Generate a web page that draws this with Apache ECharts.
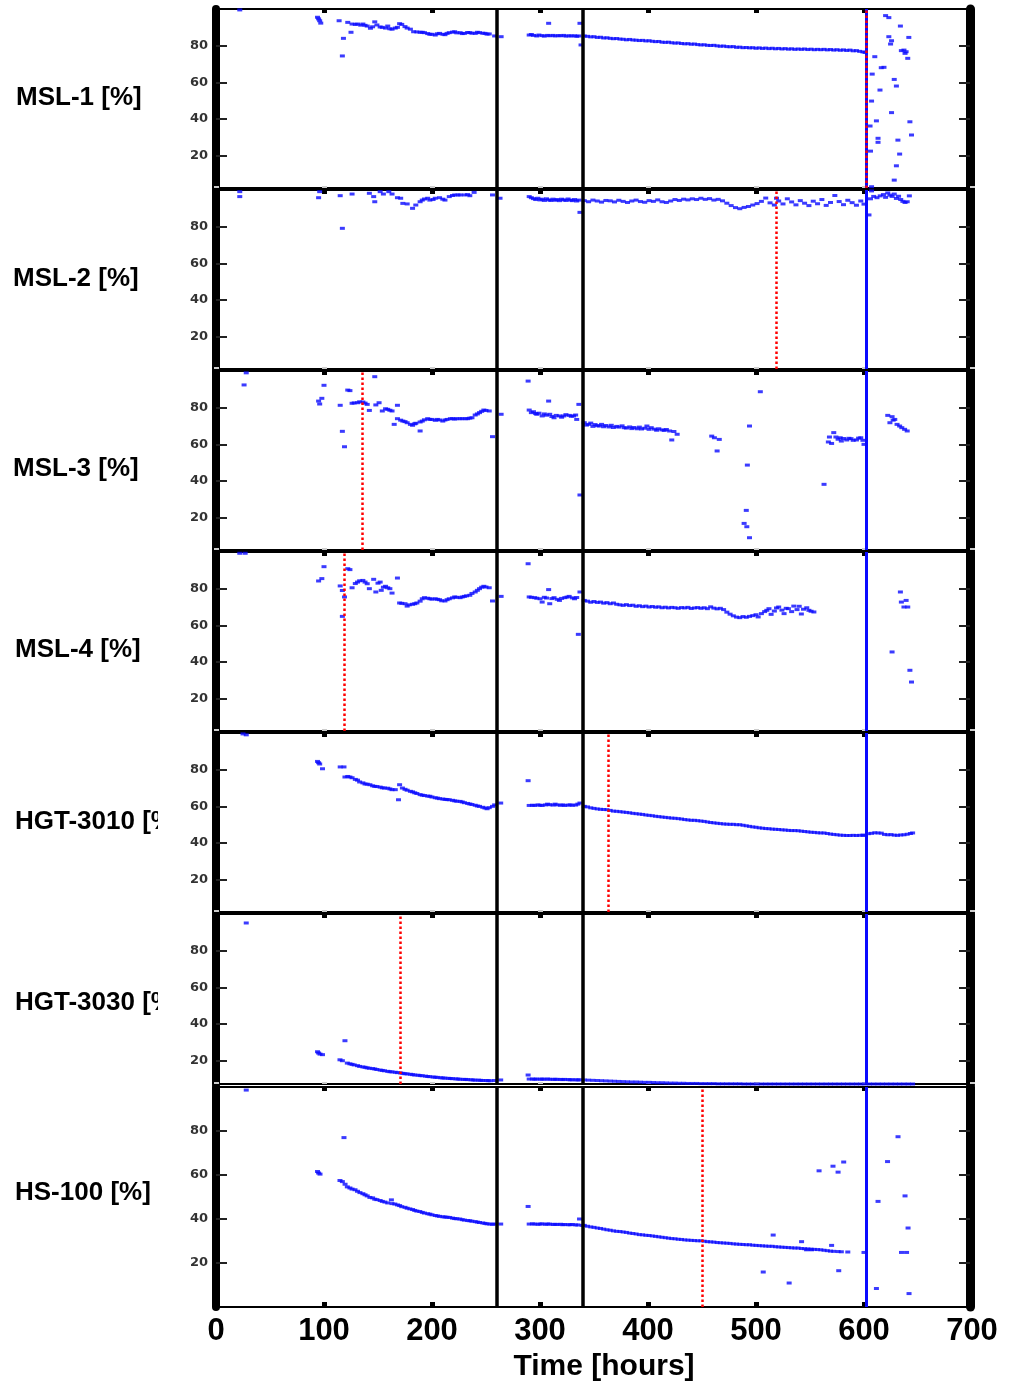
<!DOCTYPE html>
<html>
<head>
<meta charset="utf-8">
<script src="https://cdn.jsdelivr.net/npm/echarts@6/dist/echarts.min.js"></script>
<style>html,body{margin:0;padding:0;background:#fff}#main{width:1015px;height:1385px}</style>
</head>
<body>
<div id="main"></div>
<script>
// panel titles (left side)
var names = ['MSL-1 [%]', 'MSL-2 [%]', 'MSL-3 [%]', 'MSL-4 [%]', 'HGT-3010 [%]', 'HGT-3030 [%]', 'HS-100 [%]'];

// [hours, %]
var msl1 = [[22,99.5],[94,95.5],[95,94.6],[96,93.6],[97,92.3],[114,93.6],[117,74.4],[118,84],[122,92.7],[125,87.3],[126,91.8],[129,91.6],[131,91.8],[134,91.2],[136,91.8],[138,91.1],[140,90.7],[143,89.5],[145,90.3],[147,93],[149,91.3],[152,90.2],[154,90],[157,89.6],[159,90.7],[161,89.2],[163,89],[166,89.6],[168,90],[170,92],[172,91.6],[175,90.4],[177,89.6],[180,89],[183,87.6],[186,87.5],[189,87.3],[191,87.3],[193,87.1],[196,86.6],[198,86.2],[200,86.2],[203,85.8],[205,86.5],[207,86.7],[210,86.2],[212,86],[214,86.7],[216,87.1],[219,87.4],[221,87.6],[223,87],[226,87.1],[228,86.6],[230,86.7],[233,87.2],[235,87.1],[237,86.8],[240,86.7],[242,87.3],[244,87.1],[247,86.8],[249,86.7],[251,86.3],[253,86.4],[258,85.3],[264,84.9],
  [290,85.8],[292,86.1],[294,85.6],[297,85.3],[299,85.8],[302,85.5],[304,85.2],[307,85.6],[308,92.2],[309,85.4],[312,85.6],[314,85.3],[317,85.5],[319,85.4],[322,85.6],[324,85.2],[327,85.4],[329,85.3],[332,85.4],[334,85.1],[336,85.3],[337,92.2],[338,80.4],
  [341,85.3],[344,85.1],[347,84.8],[350,84.9],[353,84.5],[356,84.6],[359,84.2],[362,84.3],[365,84.0],[368,83.8],[371,83.9],[374,83.6],[377,83.5],[380,83.2],[383,83.4],[386,83.1],[389,83.0],[392,82.8],[395,82.9],[398,82.6],[401,82.7],[404,82.4],[407,82.2],[410,82.3],[413,81.9],[416,81.8],[419,81.9],[422,81.6],[425,81.4],[428,81.5],[431,81.2],[434,81.0],[437,81.1],[440,80.8],[443,80.9],[446,80.6],[449,80.4],[452,80.5],[455,80.2],[458,80.1],[461,80.2],[464,79.9],[467,79.7],[470,79.8],[473,79.5],[476,79.4],[479,79.5],[482,79.1],[485,79.2],[488,78.9],[491,79.0],[494,78.8],[497,78.9],[500,78.6],[503,78.8],[506,78.5],[509,78.7],[512,78.4],[515,78.6],[518,78.3],[521,78.5],[524,78.2],[527,78.4],[530,78.1],[533,78.3],[536,78.0],[539,78.2],[542,78.0],[545,78.2],[548,77.9],[551,78.1],[554,77.8],[557,78.0],[560,77.8],[563,78.0],[566,77.7],[569,77.9],[572,77.6],[575,77.8],[578,77.5],[581,77.7],[584,77.4],[587,77.6],[590,77.2],[593,77.3],[596,76.9],[599,76.6],[601,76.3],
  [605.6,36.2],[606,22.5],[607,49.8],[607.6,64.5],[607,3.1],[610,74],[611.5,39],[613,29.5],[613,27.3],[614.8,55.8],[616,68],[618.5,68.2],[620,96.4],[623,95.3],[623,84.9],[624.6,80.9],[625.5,82.7],[625.5,43.5],[628,61.6],[628,6.7],[630,58],[630,14.5],[631.4,28.5],[633,20.9],[633.7,90.7],[634.6,77.3],[637,77.6],[638,75.8],[639,76.7],[640.5,73.1],[641.5,84.5],[642.5,38.5],[644,31.3]];

var msl2 = [[22,99.1],[22,96.4],[95,95.8],[96,99.1],[115,96.9],[117,79.1],[126,97.8],[142,98.2],[146,96.4],[147,93.6],[152,99.1],[155,97.8],[160,99.1],[163,97.8],[168,95.8],[171,95.5],[173,92.7],[177,92.4],[182,90],[185,91.8],[189,93.6],[191,94.5],[193,95.1],[196,95.5],[198,94.5],[201,94.8],[203,95.5],[207,95.8],[210,95],[212,94.5],[216,96.4],[219,97],[221,97.3],[224,97.3],[226,97.3],[230,97.3],[233,97.5],[235,96.9],[239,98.7],[256,97.3],[263,95.5],
  [290,96.4],[292,95.8],[294,95.3],[296,94.8],[298,95.5],[300,94.6],[302,95],[304,94.3],[306,95.2],[308,94.6],[310,94.3],[312,95],[314,94.4],[316,94.8],[318,94.2],[320,95],[322,94.6],[324,94.3],[326,95.1],[328,94.5],[330,94.2],[332,94.8],[334,94],[336,94.5],[337,87.8],
  [341,94.2],[345,93.6],[349,94.5],[353,94],[357,93.4],[361,94.3],[365,94.1],[369,93.5],[373,94.4],[377,93.8],[381,93.2],[385,94],[389,94.5],[393,93.7],[397,93.3],[401,94.2],[405,93.8],[409,94.6],[413,93.6],[417,93.2],[421,94],[425,94.8],[429,94.3],[433,95],[437,94.6],[441,95.2],[445,94.8],[449,95.5],[453,94.9],[457,95.3],[461,94.5],[465,94.9],[469,94.1],[473,92.8],[477,91.5],[481,90.4],[485,89.8],[489,90.5],[493,91],[497,91.8],[501,92.6],[505,93.8],[509,95.6],[513,93],[517,91.8],[519,95.5],[521,94],[525,92.4],[529,95.2],[533,93.5],[537,91.9],[541,94.2],[545,92.8],[549,91.5],[553,93.9],[557,92.5],[561,94.8],[565,91.6],[569,93.2],[573,97],[577,93.7],[581,92],[585,94.4],[589,93.1],[593,91.7],[597,94],[600,92.3],
  [604.6,86.4],[607,99.5],[606,95.2],[609,96.5],[612,95.8],[615,96.8],[618,97.5],[620,96],[622,98.4],[624,97.2],[626,96.5],[628,97.8],[630,95.4],[632,96.6],[634,94.8],[636,93.8],[638,93.2],[640,93.6],[642,96.8]];

var msl3 = [[28,99],[26,92.4],[95,83.6],[96,82],[98,85.1],[100,92.2],[115,81.3],[117,67.1],[119,58.7],[122,89.6],[124,89.3],[126,82.4],[128,82.6],[131,82.7],[133,83.2],[136,83.1],[138,82.5],[140,81.8],[142,78.5],[147,96.9],[148,81.5],[151,82.7],[154,78.2],[157,79.4],[159,79.1],[161,78.6],[163,78.2],[165,70.9],[168,81.3],[168,74],[171,73.2],[173,72.7],[175,72.4],[177,71.8],[180,70.9],[182,70.4],[184,71.2],[185,71.5],[189,67.3],[189,72.2],[191,72.7],[193,73.4],[196,74],[198,73.6],[200,73.6],[203,73.1],[205,73.6],[207,73.3],[210,72.7],[212,73.3],[214,73.6],[217,74],[219,74],[221,73.8],[223,74],[226,74],[228,74],[231,74],[233,74],[235,74.3],[237,74.5],[240,76],[242,76.6],[244,77.3],[246,78],[248,78.7],[250,78.5],[253,78.2],[256,64.2],[264,76.4],
  [289,94.5],[290,78.7],[292,77.3],[294,77.8],[296,76.8],[297,76.4],[299,77],[302,75.5],[304,76.6],[306,75.9],[308,83.6],[309,76.4],[311,75.2],[313,74.5],[315,75.8],[318,75.5],[320,74.8],[322,75.5],[324,76.2],[327,75.8],[329,75.3],[331,75.5],[333,76],[334,73.6],[336,81.8],[337,32.4],
  [341,71.8],[343,70.5],[345,70.9],[347,71.6],[349,69.8],[351,70.8],[353,70.2],[355,70],[357,70.9],[359,69.6],[361,70.3],[364,69.5],[366,70.4],[368,69.2],[371,69.8],[373,69.4],[376,70.1],[378,69.1],[380,68.9],[383,69.5],[385,68.6],[387,69.2],[390,68.5],[392,69.4],[394,68.4],[397,68.8],[399,70],[401,68.2],[403,69.1],[406,68.3],[408,67.7],[410,68.5],[413,67.9],[415,67.6],[417,68.1],[420,67.3],[422,62.4],[424,67],[427,65.5],
  [459,64.5],[461.5,63.6],[464,56.4],[466,62.7],[489,16.9],[491,24],[491.5,15.1],[492,48.7],[494,70],[494,9.1],[504,88.7],[563,38.2],
  [567,61.3],[568,64],[570,60.5],[572,66.4],[574,64],[576,62.8],[578,63.6],[579,61.8],[581,63.2],[584,62.4],[586,63.3],[588,63.1],[590,62.2],[593,62.4],[595,63.4],[597,63.6],[599,62.2],[600,60],
  [622,75.8],[624,71.8],[626,75.1],[627,73.2],[628.5,73.6],[630.6,70.9],[633,70],[635,69.1],[637.6,68.2],[640,67.3]];

var msl4 = [[22,99.3],[27,99.3],[95,84.2],[98,85.5],[100,92],[115,81.5],[117,79],[117,64.9],[119,75.5],[122,90.9],[124,90.4],[126,80.5],[129,82.8],[131,83.6],[133,84.3],[136,84.5],[138,83.6],[140,82.7],[142,80],[146,85.1],[148,78.2],[150,83],[152,83.6],[153,79.1],[155,80.8],[157,81.3],[159,80.5],[161,80],[163,77.6],[168,85.8],[170,72.2],[172,72],[175,71.8],[177,70.5],[179,71.2],[182,71.5],[184,71.8],[186,72.2],[189,73.2],[191,74.5],[193,75.1],[196,74.8],[198,74.5],[200,74.3],[203,74.5],[205,74.2],[207,74],[209,73.4],[212,73.3],[214,74],[216,74.5],[219,75],[221,75.5],[223,75.3],[226,75.1],[228,75.5],[230,75.8],[232,76.1],[235,76.4],[237,77.4],[240,78.2],[242,79.1],[244,80],[246,80.8],[248,81.3],[250,80.9],[253,80.5],[256,73.3],[264,75.8],
  [289,93.6],[290,75.5],[292,75.3],[295,75.1],[297,74.8],[300,74.5],[302,72.7],[304,75.3],[306,74.9],[308,79.5],[309,71.8],[311,74.6],[313,75.1],[316,74.2],[318,73.6],[320,74.7],[323,75.1],[325,75.4],[327,75.8],[330,75],[332,74.5],[334,75.2],[335.5,55.1],[337,78.2],
  [341,73.6],[344,73.2],[347,72.6],[350,73],[353,72.5],[356,72.7],[359,72.1],[362,72.4],[365,71.8],[368,72.2],[371,71.5],[374,71.2],[377,70.9],[380,71.3],[383,70.8],[386,71],[389,70.4],[392,70.7],[395,70.2],[398,70.5],[401,70],[404,70.3],[407,69.9],[410,70.1],[413,69.6],[416,69.9],[419,69.5],[422,69.8],[425,69.6],[428,69.3],[431,69.7],[434,69.5],[437,69.8],[440,69.2],[443,69.5],[446,69.7],[449,69.3],[452,69.6],[455,69.1],[458,70.1],[461,69.4],[464,69],[467,69.3],[470,68.6],[473,67.2],[476,66.1],[479,65.2],[482,64.5],[485,64.2],[488,64.8],[491,64.4],[494,64.9],[497,65.3],[500,65.8],[502,64.6],[505,66.4],[508,67.5],[510,68.2],[512,69.1],[514,66],[517,67.8],[519,69.5],[521,70],[524,68.3],[526,66.4],[528,69.3],[530,69.1],[533,67.5],[535,70.5],[538,68.6],[540,70.4],[542,66.2],[544,68.8],[547,69.6],[549,68.2],[551,67.7],[553.6,67.3],
  [626,45.5],[633.7,78.2],[634.6,72.7],[637,70],[639,73.6],[640.5,70],[642.5,35.5],[644,29.1]];

var hgt3010 = [[25,99.5],[28,99],[94,84.5],[95,83.8],[96,83.1],[98.6,80.5],[115,81.5],[118.5,81.5],[119.4,76],[122,76.3],[124,76],[126,75.6],[129,74.7],[131,74.3],[133,73.3],[136,72.8],[138,72.2],[140,72.1],[142.5,71.8],[145,71.2],[147,70.9],[149,70.8],[152,70.5],[154,70.1],[156,70],[159,69.9],[161,69.5],[163,69.1],[166,69.1],[169,63.6],[170,71.8],[172.6,70],[175,69.3],[177,68.8],[180,68.2],[182,67.9],[184,67.4],[186,67],[189,66.4],[191,66.1],[193,65.9],[196,65.6],[198,65.5],[200,65.1],[203,64.7],[205,64.5],[207,64.2],[210,64],[212,63.8],[214,63.7],[216,63.6],[219,63.3],[221,63],[223,62.8],[226,62.7],[228,62.4],[230,62],[233,61.6],[235,61.3],[237,61],[240,60.6],[242,60.2],[244,60],[247,59.5],[249,59.1],[251,58.7],[253,59.3],[256,60],[258,60.8],[263.6,61.8],
  [289,74],[290,60.5],[293,60.6],[295,60.5],[298,60.8],[300,60.6],[302,60.5],[305,60.8],[307,61.2],[309,60.9],[312,60.7],[314,61.2],[316,60.8],[319,60.6],[321,60.8],[323,60.5],[326,60.7],[328,60.8],[330,60.6],[333,60.7],[335,61.2],[337,61.8],
  [341,60],[344,59.7],[347,59.2],[350,58.9],[353,58.6],[356,58.4],[359,58.3],[362,58.2],[365,57.8],[368,57.4],[371,57.3],[374,57.1],[377,56.9],[380,56.7],[383,56.5],[386,56.2],[389,56],[392,55.8],[395,55.6],[398,55.3],[401,55.1],[404,54.9],[407,54.6],[410,54.4],[413,54.2],[416,54],[419,53.8],[422,53.6],[425,53.5],[428,53.3],[431,53.1],[434,52.8],[437,52.6],[440,52.4],[443,52.4],[446,52.2],[449,52],[452,51.8],[455,51.5],[458,51.2],[461,51],[464,50.8],[467,50.6],[470,50.4],[473,50.3],[476,50.2],[479,50.2],[482,50],[485,50],[488,49.7],[491,49.4],[494,49.1],[497,48.8],[500,48.6],[503,48.3],[506,48.1],[509,47.9],[512,47.8],[515,47.6],[518,47.5],[521,47.4],[524,47.2],[527,47.1],[530,46.9],[533,46.8],[536,46.8],[539,46.7],[542,46.5],[545,46.3],[548,46.1],[551,45.9],[554,45.8],[557,45.6],[560,45.5],[563,45.5],[566,45.2],[569,44.9],[572,44.7],[575,44.5],[578,44.3],[581,44.2],[584,44.1],[587,44.1],[590,44.2],[593,44.1],[596,44.2],[599,44.3],[600,44.2],
  [604,45.1],[607,45.3],[610,45.6],[613,45.5],[616,45.4],[619,44.7],[622,44.5],[625,44.6],[628,44.3],[631,44.2],[634,44.4],[637,44.5],[640,44.8],[643,45.2],[645,45.5]];

var hgt3030 = [[28,95.1],[94,24.9],[95,24.2],[96.3,23.6],[98.6,23.3],[114.8,20.5],[117,20],[119.4,30.9],[121.6,18.7],[124,18.3],[126,18],[128,17.7],[131,17.3],[133,16.9],[136,16.6],[138,16.4],[140,16.1],[142,15.9],[145,15.7],[147,15.5],[149,15.2],[152,14.9],[154,14.7],[156,14.5],[159,14.2],[161,14],[163,13.9],[166,13.7],[168,13.5],[171,13.3],[173,13.1],[175,12.9],[177,12.8],[180,12.6],[182,12.4],[184,12.2],[187,12.1],[189,11.9],[191,11.8],[194,11.6],[196,11.4],[198,11.3],[201,11.1],[203,11],[205,10.9],[208,10.7],[210,10.6],[212,10.5],[215,10.4],[217,10.3],[219,10.2],[222,10.1],[224,10],[226,9.9],[229,9.8],[231,9.8],[233,9.7],[236,9.6],[238,9.5],[240,9.4],[243,9.4],[245,9.3],[247,9.2],[250,9.2],[252,9.1],[254,9.1],[258,9.2],[263.6,9.5],
  [289,12.2],[290,10],[293,10],[295,9.9],[297,10],[300,9.9],[302,10],[304,9.9],[307,10],[309,9.9],[312,9.8],[314,9.9],[316,9.8],[319,9.8],[321,9.7],[323,9.8],[326,9.7],[328,9.6],[330,9.6],[333,9.6],[335,9.5],[337,9.6],
  [341,9.5],[345,9.4],[349,9.3],[353,9.2],[357,9.1],[361,9],[365,8.9],[369,8.8],[373,8.7],[377,8.6],[381,8.5],[385,8.4],[389,8.4],[393,8.3],[397,8.2],[401,8.2],[405,8.1],[409,8],[413,8],[417,7.9],[421,7.8],[425,7.8],[429,7.7],[433,7.7],[437,7.6],[441,7.6],[445,7.6],[449,7.5],[453,7.5],[457,7.5],[461,7.5],[465,7.4],[469,7.4],[473,7.4],[477,7.4],[481,7.4],[485,7.4],[489,7.3],[493,7.3],[497,7.3],[501,7.3],[505,7.3],[509,7.3],[513,7.3],[517,7.3],[521,7.3],[525,7.3],[529,7.3],[533,7.3],[537,7.3],[541,7.3],[545,7.3],[549,7.3],[553,7.3],[557,7.3],[561,7.3],[565,7.3],[569,7.3],[573,7.3],[577,7.3],[581,7.3],[585,7.3],[589,7.3],[593,7.3],[597,7.3],[601,7.3],[605,7.3],[609,7.3],[613,7.3],[617,7.3],[621,7.3],[625,7.3],[629,7.3],[633,7.3],[637,7.3],[641,7.3],[645,7.3]];

var hs100 = [[28,98.6],[94,61.6],[95,60.9],[96.3,60.4],[114.8,57.5],[117,57],[118.5,77],[119.5,55.8],[121.6,54.6],[124,54.1],[126,53.6],[128.7,53.3],[131,52.6],[133.3,52],[136,51.5],[138,51],[140,50.5],[142.5,49.8],[145,49.6],[147,49],[149,48.8],[152,48.4],[154,48],[156.4,47.7],[159,47.3],[162.4,48.7],[163,47],[165.6,46.8],[168,46.4],[170,46.1],[172,45.6],[175,45.3],[177,44.9],[179.5,44.6],[182,44.3],[184,43.9],[186,43.6],[188.7,43.4],[191,43],[193,42.7],[196,42.4],[198,42.2],[200,41.9],[203,41.6],[205,41.4],[207,41.2],[210,41],[212,40.9],[214,40.8],[216.4,40.7],[219,40.4],[221,40.2],[223,40.1],[225.7,40],[228,39.7],[230,39.5],[233,39.3],[235,39.2],[237,39],[240,38.8],[242,38.6],[244,38.4],[247,38.2],[249,38],[251,37.8],[253.5,37.7],[256,37.6],[258,37.7],[263.6,37.7],
  [289,45.7],[290,37.7],[293,37.8],[295,37.7],[298,37.6],[300,37.7],[302,37.8],[305,37.6],[307,37.7],[309,37.7],[312,37.5],[314,37.6],[316,37.5],[319,37.6],[321,37.4],[323,37.5],[326,37.4],[328,37.4],[330,37.5],[333,37.3],[335,37.3],[336.6,40],[339,37.1],
  [341,37.1],[344,36.7],[347,36.4],[350,36.2],[353,35.9],[356,35.7],[359,35.4],[362,35.1],[365,34.9],[368,34.6],[371,34.4],[374,34.3],[377,34.1],[380,33.9],[383,33.6],[386,33.4],[389,33.2],[392,32.9],[395,32.8],[398,32.6],[401,32.5],[404,32.3],[407,32.1],[410,31.9],[413,31.7],[416,31.5],[419,31.3],[422,31.1],[425,31],[428,30.8],[431,30.7],[434,30.5],[437,30.4],[440,30.3],[443,30.2],[446,30.1],[449,30.1],[452,29.9],[455,29.7],[458,29.6],[461,29.5],[464,29.3],[467,29.2],[470,29.1],[473,29],[476,28.9],[479,28.7],[482,28.6],[485,28.5],[488,28.4],[491,28.3],[494,28.3],[497,28.1],[500,28],[503,27.9],[506,27.8],[509,27.7],[512,27.6],[515,27.6],[518,27.4],[521,27.3],[524,27.2],[527,27.1],[530,27],[533,26.9],[536,26.8],[539,26.8],[542,26.6],[545,26.5],[548,26.4],[551,26.3],[554,26.2],[557,26.1],[560,26],[563,25.8],[566,25.6],[569,25.4],[572,25.3],[576,25.2],[579,25.1],[585,25],
  [506.7,15.9],[515.9,32.7],[530.7,10.9],[542.2,29.7],[546.8,26],[551.4,26],[558.4,61.9],[570,28],[571.3,64],[576,61.3],[576.6,16.5],[581.2,65.9],[600,24.8],
  [611.5,8.4],[613,48],[621.8,66.1],[631.5,77.4],[634.7,24.8],[638,50.5],[639.4,24.8],[640.8,35.9],[641.7,6.1]];

var panels = [msl1, msl2, msl3, msl4, hgt3010, hgt3030, hs100];

// vertical markers (hours)
var blackLines = [260, 340];
var blueLine = 602;
var redLines = [602, 519, 135.5, 119, 363, 171, 450];

var yTicks = [20, 40, 60, 80];
var yMins = [2.4, 2.4, 2.4, 2.4, 2.4, 7.3, 0];

// layout
var tops = [9, 190, 371, 552, 733, 914, 1087];
var heights = [179, 179, 179, 179, 179, 170, 220];
var labelX = [16, 13, 13, 15, 15, 15, 15];
var labelY = [98, 279, 469, 650, 822, 1003, 1193];

var myChart = echarts.init(document.getElementById('main'));

var grids = [], xAxes = [], yAxes = [], series = [], graphics = [];

panels.forEach(function (data, i) {
    var last = i === panels.length - 1;
    grids.push({left: 216, right: 43, top: tops[i], height: heights[i], outerBoundsMode: 'none', containLabel: false});

    // bottom
    xAxes.push({
        gridIndex: i, type: 'value', min: 0, max: 700, interval: 100, position: 'bottom',
        axisLine: {onZero: false, lineStyle: {color: '#000', width: 2}},
        axisTick: {inside: true, length: last ? 5 : 2, lineStyle: {color: last ? '#000' : '#ccc', width: 5}},
        axisLabel: {show: last, margin: 9, color: '#000', fontSize: 31, fontWeight: 'bold', fontFamily: 'Liberation Sans, Arial'},
        splitLine: {show: false},
        name: last ? 'Time [hours]' : '',
        nameLocation: 'middle', nameGap: 45,
        nameTextStyle: {color: '#000', fontSize: 30, fontWeight: 'bold', fontFamily: 'Liberation Sans, Arial', padding: [0, 0, 0, 20]}
    });
    // top
    xAxes.push({
        gridIndex: i, type: 'value', min: 0, max: 700, interval: 100, position: 'top',
        axisLine: {onZero: false, lineStyle: {color: '#000', width: 2}},
        axisTick: {inside: true, length: 4, lineStyle: {color: '#000', width: 5}},
        axisLabel: {show: false},
        splitLine: {show: false}
    });
    // left
    yAxes.push({
        gridIndex: i, type: 'value', min: yMins[i], max: 100, position: 'left',
        axisLine: {onZero: false, lineStyle: {color: '#000', width: 8}},
        axisTick: {inside: true, length: 11, customValues: yTicks, lineStyle: {color: '#222', width: 2}},
        axisLabel: {customValues: yTicks, margin: 8, color: '#333', fontSize: 13, fontWeight: 'bold', fontFamily: 'DejaVu Sans'},
        splitLine: {show: false}
    });
    // right
    yAxes.push({
        gridIndex: i, type: 'value', min: yMins[i], max: 100, position: 'right', offset: -2,
        axisLine: {onZero: false, lineStyle: {color: '#000', width: 9}},
        axisTick: {inside: true, length: 11, customValues: yTicks, lineStyle: {color: '#222', width: 2}},
        axisLabel: {show: false},
        splitLine: {show: false}
    });

    var lines = blackLines.map(function (v) {
        return {xAxis: v, lineStyle: {color: '#000', width: 3.5, type: 'solid'}};
    });
    lines.push({xAxis: blueLine, lineStyle: {color: '#0a0aff', width: 3, type: 'solid'}});
    lines.push({xAxis: redLines[i], lineStyle: {color: '#ff0000', width: 2.5, type: 'dotted'}});

    series.push({
        type: 'scatter', xAxisIndex: 2 * i, yAxisIndex: 2 * i,
        data: data,
        symbol: 'rect', symbolSize: [5, 3],
        itemStyle: {color: '#0a0aff'},
        markLine: {silent: true, symbol: ['none', 'none'], label: {show: false}, animation: false, data: lines}
    });

    graphics.push({
        type: 'text', x: labelX[i], y: labelY[i], z: -2,
        style: {text: names[i], fill: '#000', fontSize: 26, fontWeight: 'bold', fontFamily: 'Liberation Sans, Arial', verticalAlign: 'middle'}
    });
});

// long labels are hidden behind the tick-label strip
graphics.push({type: 'rect', z: -1, shape: {x: 158, y: 0, width: 54, height: 1310}, style: {fill: '#fff'}});

option = {
    animation: false,
    backgroundColor: '#fff',
    grid: grids,
    xAxis: xAxes,
    yAxis: yAxes,
    series: series,
    graphic: graphics
};
myChart.setOption(option);
</script>
</body>
</html>
